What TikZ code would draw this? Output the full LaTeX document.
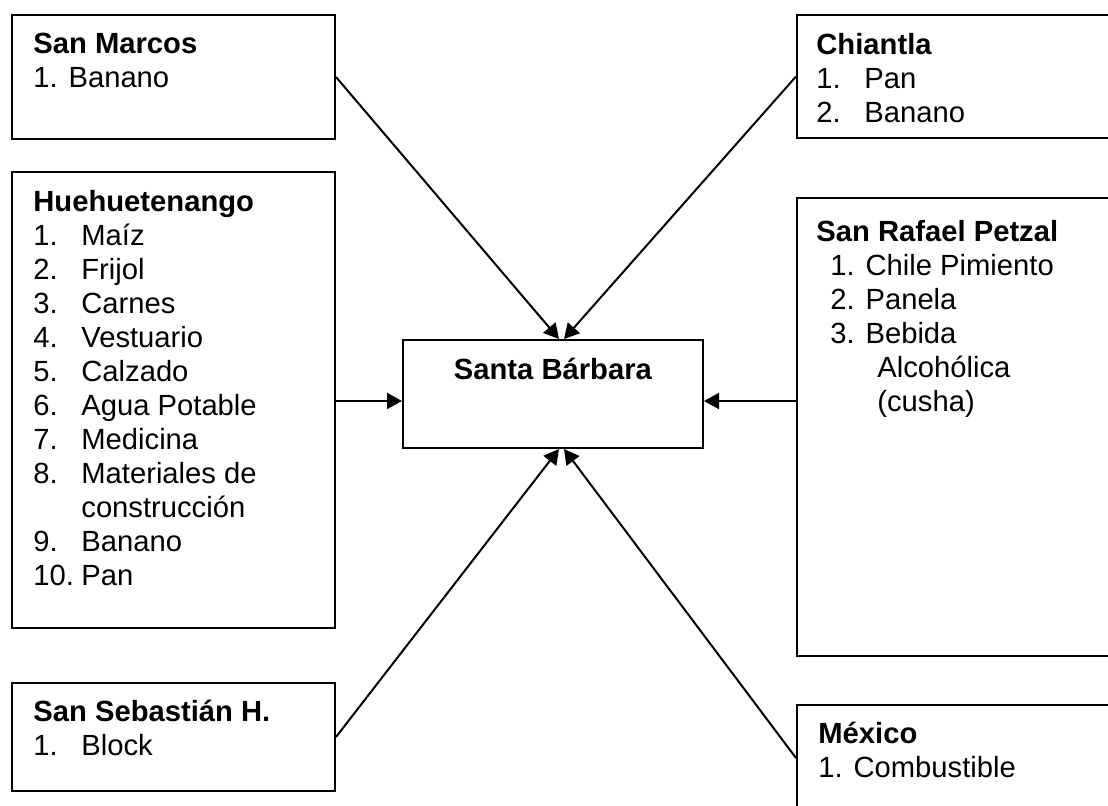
\documentclass[tikz,border=0pt]{standalone}
\usepackage{fontspec}
\setmainfont{Liberation Sans}
\usetikzlibrary{positioning,arrows.meta}

\tikzset{
  caja/.style={draw, line width=1pt, anchor=north west, inner sep=0pt},
  texto/.style={inner sep=0pt, align=left, font=\fontsize{14.6}{17}\selectfont},
  flecha/.style={-{Triangle[length=7.5pt,width=8pt]}, line width=1pt}
}
\newcommand{\itm}[2]{\makebox[24pt][l]{#1}#2}

\begin{document}
\begin{tikzpicture}[x=0.5pt, y=-0.5pt]
    \path[use as bounding box, clip] (0,0) rectangle (1108,806);

    % cajas
    \node[caja, minimum width=161.5pt, minimum height=62pt] (marcos) at (11,14) {};
    \node[caja, minimum width=161.5pt, minimum height=228pt] (huehue) at (11,171) {};
    \node[caja, minimum width=161.5pt, minimum height=54pt] (sebas) at (11,682) {};
    \node[caja, minimum width=162pt, minimum height=61.5pt] (chiantla) at (796,14) {};
    \node[caja, minimum width=162pt, minimum height=229pt] (rafael) at (796,197) {};
    \node[caja, minimum width=162pt, minimum height=53pt] (mexico) at (796,704) {};
    \node[caja, minimum width=150pt, minimum height=54pt] (santa) at (402,339) {};

    % textos
    \node[texto, below right=9.5pt and 11pt of marcos.north west] (marcos-txt)
        {\textbf{San Marcos}\\1. Banano};
    \node[texto, below right=9.5pt and 11pt of huehue.north west] (huehue-txt)
        {\textbf{Huehuetenango}\\
         \itm{1.}{Maíz}\\ \itm{2.}{Frijol}\\ \itm{3.}{Carnes}\\
         \itm{4.}{Vestuario}\\ \itm{5.}{Calzado}\\ \itm{6.}{Agua Potable}\\
         \itm{7.}{Medicina}\\ \itm{8.}{Materiales de}\\ \itm{}{construcción}\\
         \itm{9.}{Banano}\\ \itm{10.}{Pan}};
    \node[texto, below right=9pt and 11pt of sebas.north west] (sebas-txt)
        {\textbf{San Sebastián H.}\\ \itm{1.}{Block}};
    \node[texto, below right=9.5pt and 10pt of chiantla.north west] (chiantla-txt)
        {\textbf{Chiantla}\\ \itm{1.}{Pan}\\ \itm{2.}{Banano}};
    \node[texto, below right=11.5pt and 10pt of rafael.north west] (rafael-txt)
        {\textbf{San Rafael Petzal}\\
         \hspace*{7pt}1. Chile Pimiento\\ \hspace*{7pt}2. Panela\\
         \hspace*{7pt}3. Bebida\\ \hspace*{30.5pt}Alcohólica\\ \hspace*{30.5pt}(cusha)};
    \node[texto, below right=9pt and 11pt of mexico.north west] (mexico-txt)
        {\textbf{México}\\1. Combustible};
    \node[texto, below=9.5pt of santa.north] (santa-txt) {\textbf{Santa Bárbara}};

    % puntos de llegada
    \coordinate (sb-n1) at ([xshift=3pt]santa.north);
    \coordinate (sb-n2) at ([xshift=5.5pt]santa.north);
    \coordinate (sb-s1) at ([xshift=3pt]santa.south);
    \coordinate (sb-s2) at ([xshift=5.5pt]santa.south);
    \coordinate (sb-w) at ([yshift=-3.5pt]santa.west);
    \coordinate (sb-e) at ([yshift=-3.5pt]santa.east);

    % flechas
    \draw[flecha] (marcos.east) -- (sb-n1);
    \draw[flecha] (chiantla.west) -- (sb-n2);
    \draw[flecha] (huehue.east |- sb-w) -- (sb-w);
    \draw[flecha] (rafael.west |- sb-e) -- (sb-e);
    \draw[flecha] (sebas.east) -- (sb-s1);
    \draw[flecha] (mexico.west) -- (sb-s2);
\end{tikzpicture}
\end{document}
